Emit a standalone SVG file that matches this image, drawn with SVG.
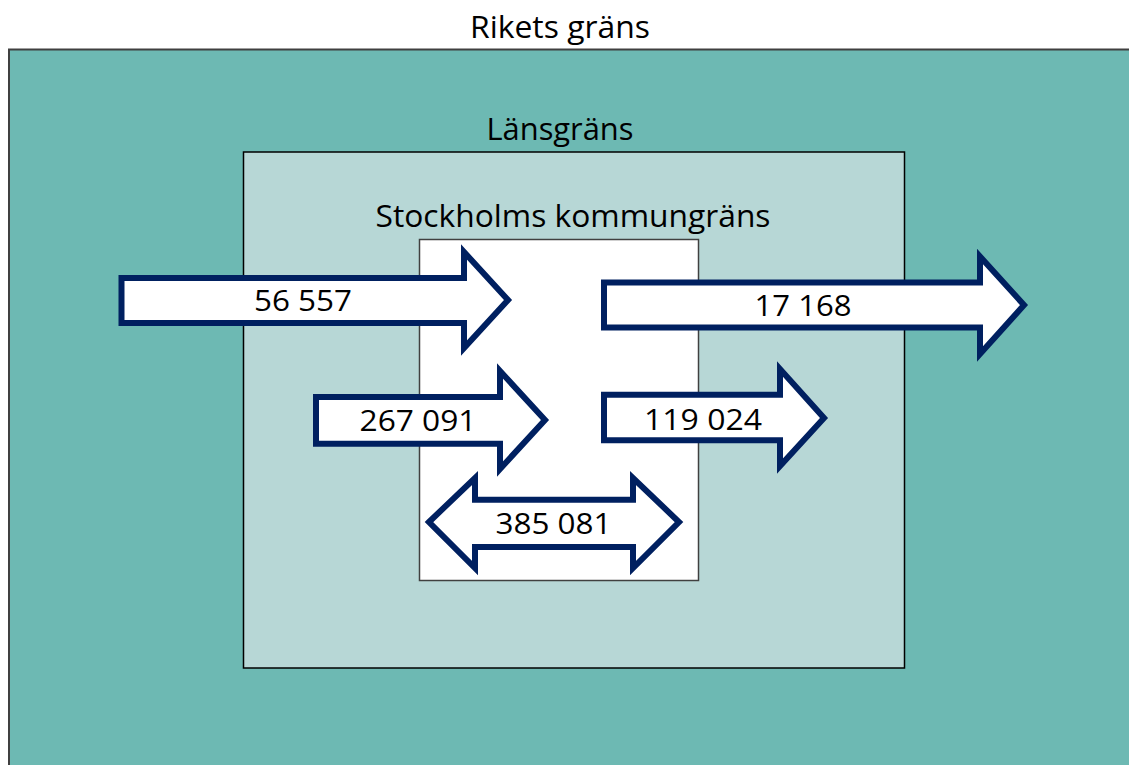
<svg xmlns="http://www.w3.org/2000/svg" width="1129" height="765" viewBox="0 0 1129 765">
<style>
.lbl{font-family:"Open Sans","Noto Sans","Liberation Sans",sans-serif;fill:#000;text-anchor:middle}
.title{font-size:31px}
.num{font-size:30px}
.blk{fill:#fff;stroke:#002060;stroke-width:6;stroke-linejoin:miter;stroke-miterlimit:10}
</style>
<rect x="0" y="0" width="1129" height="765" fill="#fff"/>
<g id="riket">
<rect x="9" y="49.5" width="1130" height="720" fill="#6DB9B3" stroke="#404040" stroke-width="2"/>
<text class="lbl title" x="560" y="38" textLength="180" lengthAdjust="spacingAndGlyphs">Rikets gräns</text>
</g>
<g id="lan">
<rect x="243.5" y="152" width="661" height="516" fill="#B7D7D6" stroke="#000" stroke-width="1.5"/>
<text class="lbl title" x="560" y="140" textLength="147" lengthAdjust="spacingAndGlyphs">Länsgräns</text>
</g>
<g id="stockholm">
<rect x="419.5" y="239.5" width="279" height="341" fill="#fff" stroke="#404040" stroke-width="1.5"/>
<text class="lbl title" x="573" y="227" textLength="395" lengthAdjust="spacingAndGlyphs">Stockholms kommungräns</text>
</g>
<g id="connectors">
<g id="a56557">
<polygon class="blk" points="121.5,278 464,278 464,252 508,300 464,348 464,323 121.5,323"/>
<text class="lbl num" x="303" y="311" textLength="98" lengthAdjust="spacingAndGlyphs">56 557</text>
</g>
<g id="a267091">
<polygon class="blk" points="316,397 500,397 500,371 545,420 500,469 500,443.7 316,443.7"/>
<text class="lbl num" x="418" y="431" textLength="117" lengthAdjust="spacingAndGlyphs">267 091</text>
</g>
<g id="a17168">
<polygon class="blk" points="604,282.5 980,282.5 980,256.5 1024,305 980,354 980,327.5 604,327.5"/>
<text class="lbl num" x="803" y="316" textLength="97" lengthAdjust="spacingAndGlyphs">17 168</text>
</g>
<g id="a119024">
<polygon class="blk" points="604,394.7 780,394.7 780,369 824,418 780,466 780,440.3 604,440.3"/>
<text class="lbl num" x="703" y="430" textLength="118" lengthAdjust="spacingAndGlyphs">119 024</text>
</g>
<g id="a385081">
<polygon class="blk" points="429,522 475,478 475,499.7 633,499.7 633,478 679,522 633,568 633,547 475,547 475,568"/>
<text class="lbl num" x="553.5" y="534" textLength="116" lengthAdjust="spacingAndGlyphs">385 081</text>
</g>
</g>
</svg>
